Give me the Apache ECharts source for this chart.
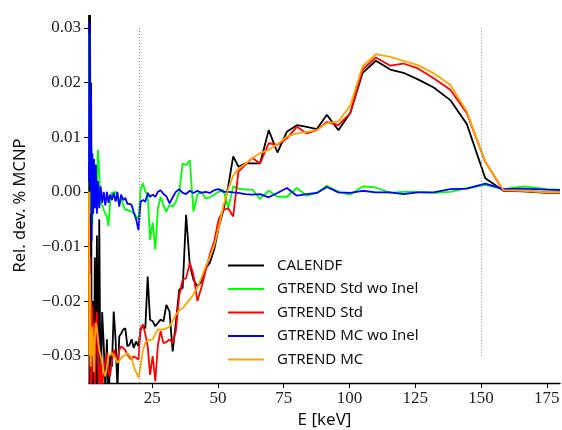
<!DOCTYPE html>
<html>
<head>
<meta charset="utf-8">
<script src="https://cdn.jsdelivr.net/npm/echarts@6/dist/echarts.min.js"></script>
<style>
  html, body { margin: 0; padding: 0; background: #fff; }
  #chart { width: 562px; height: 430px; }
</style>
</head>
<body>
<div id="chart"></div>
<script>
// energie (keV)
const energy = [1.0, 1.2, 1.4, 1.6, 1.8, 2.0, 2.3, 2.6, 2.9, 3.2, 3.6, 4.0, 4.4, 4.9, 5.4, 6.0, 6.6, 7.2, 7.8, 8.4,
  9.0, 9.7, 10.4, 11.1, 11.8, 12.5, 13.2, 14.0, 14.8, 15.6, 16.4, 17.2, 18.0, 18.9, 19.8, 20.6, 21.5, 22.4, 23.3, 24.2,
  25.2, 26.2, 27.2, 28.2, 29.3, 30.4, 31.6, 32.8, 34.0, 35.3, 36.6, 37.9, 39.3, 40.7, 42.2, 43.7, 45.3, 46.9, 48.6, 50.3,
  52.1, 53.9, 55.8, 57.8, 60.3, 63.1, 66.0, 69.3, 72.6, 76.2, 80.0, 83.8, 87.6, 91.4, 95.8, 100.3, 105.0, 110.0, 115.5, 120.5,
  126.0, 132.0, 138.3, 144.6, 151.6, 158.5, 166.0, 175.0, 180.0]

const calendf = [0.04, -0.04, 0.035, -0.04, 0.02, -0.04, -0.035, -0.02, -0.04, -0.012, -0.04, -0.008, -0.038, -0.005, -0.04, -0.022, -0.028, -0.036, -0.027, -0.04,
  -0.03, -0.032, -0.0219, -0.027, -0.036, -0.0265, -0.026, -0.0252, -0.025, -0.0283, -0.028, -0.027, -0.0286, -0.0274, -0.0283, -0.0252, -0.0245, -0.025, -0.0155, -0.0234,
  -0.0237, -0.0246, -0.024, -0.0234, -0.0237, -0.0207, -0.0219, -0.0292, -0.024, -0.0179, -0.0176, -0.0042, -0.0133, -0.0161, -0.0173, -0.0164, -0.014, -0.013, -0.0105, -0.0065,
  -0.0033, 0.001, 0.0065, 0.0046, 0.0052, 0.0052, 0.0052, 0.0113, 0.0072, 0.011, 0.0122, 0.0119, 0.0115, 0.0141, 0.0113, 0.0145, 0.0218, 0.024, 0.0224, 0.0218,
  0.0206, 0.0191, 0.0168, 0.0124, 0.0025, 0.0002, 0.0001, -0.0002, -0.0002]

const stdWoInel = [0.005, 0.029, 0.02, 0.011, -0.004, 0.008, -0.006, 0.004, -0.002, 0.003, -0.003, 0.0, 0.0077, 0.0034, -0.002, -0.0025, -0.0033, -0.004, -0.0045, -0.0063,
  -0.002, -0.0002, 0.0, 0.0, -0.001, -0.0021, -0.0012, -0.0025, -0.0033, -0.0033, -0.0035, -0.0036, -0.004, -0.0045, -0.005, 0.0004, 0.0016, 0.0, -0.0002, -0.0088,
  -0.0056, -0.0106, -0.003, -0.0009, -0.0025, -0.0036, -0.0024, -0.0027, -0.0018, 0.0, 0.0052, 0.0049, 0.0058, -0.0036, -0.0005, 0.0, -0.0012, -0.001, -0.0005, 0.0,
  0.0004, -0.003, 0.001, 0.0006, 0.0004, 0.0004, -0.0013, 0.0002, -0.0009, -0.0009, 0.0007, -0.0007, -0.0002, 0.0011, 0.0, -0.0005, 0.001, 0.0008, -0.0002, 0.0,
  0.0, -0.0002, 0.0, 0.0007, 0.0013, 0.0005, 0.001, 0.0005, 0.0004]

const std = [-0.005, -0.03, -0.012, -0.038, -0.02, -0.035, -0.021, -0.03, -0.024, -0.036, -0.025, -0.022, -0.03, -0.038, -0.031, -0.036, -0.0325, -0.031, -0.0295, -0.033,
  -0.0338, -0.031, -0.0289, -0.03, -0.031, -0.029, -0.0283, -0.0286, -0.029, -0.0298, -0.0303, -0.0307, -0.0301, -0.0304, -0.0307, -0.025, -0.0243, -0.026, -0.0283, -0.0335,
  -0.0301, -0.0347, -0.028, -0.0255, -0.0277, -0.0275, -0.027, -0.0277, -0.0255, -0.019, -0.0161, -0.0158, -0.013, -0.0152, -0.02, -0.0175, -0.0145, -0.0115, -0.009, -0.005,
  -0.0033, -0.003, -0.0045, 0.0037, 0.0049, 0.0062, 0.0052, 0.0089, 0.0086, 0.0098, 0.0119, 0.0107, 0.0113, 0.0128, 0.0122, 0.0144, 0.0224, 0.0246, 0.0231, 0.0235,
  0.0226, 0.0208, 0.0187, 0.0144, 0.0055, 0.0002, 0.0002, -0.0001, -0.0001]

const mcWoInel = [0.002, 0.031, 0.026, 0.0, 0.018, -0.009, 0.007, -0.004, 0.006, -0.003, 0.005, -0.004, 0.002, -0.003, 0.001, -0.002, 0.0, -0.0025, 0.0, -0.002,
  -0.0005, -0.0015, -0.0002, -0.0018, 0.0, -0.0027, -0.0005, -0.0015, -0.0011, -0.0022, -0.0022, -0.0024, -0.0037, -0.005, -0.007, -0.0018, -0.0015, -0.0018, -0.0002, -0.0009,
  -0.0005, -0.0009, 0.0, 0.0003, -0.0004, -0.0008, -0.0021, -0.001, 0.0, 0.0005, -0.0002, -0.0004, 0.0002, -0.0002, 0.0002, -0.0002, 0.0, -0.0002, 0.0003, 0.0005,
  0.0, 0.0, -0.0001, -0.0002, -0.0004, -0.0005, -0.0004, -0.001, -0.0002, 0.0007, -0.0007, -0.0004, -0.0002, 0.0009, -0.0001, -0.0002, 0.0002, -0.0001, -0.0001, -0.0004,
  -0.0001, -0.0001, 0.0005, 0.0006, 0.0015, 0.0005, 0.0006, 0.0004, 0.0003]

const mc = [0.0, -0.03, -0.015, -0.032, -0.025, -0.03, -0.0246, -0.029, -0.033, -0.027, -0.024, -0.025, -0.0252, -0.0289, -0.03, -0.0313, -0.033, -0.0338, -0.032, -0.0301,
  -0.0298, -0.0295, -0.03, -0.0305, -0.0313, -0.031, -0.0305, -0.0301, -0.0298, -0.0295, -0.03, -0.0304, -0.032, -0.033, -0.034, -0.032, -0.029, -0.0276, -0.0272, -0.0271,
  -0.027, -0.026, -0.0252, -0.0252, -0.0252, -0.025, -0.0247, -0.0236, -0.0225, -0.0217, -0.0213, -0.0205, -0.0197, -0.0188, -0.0175, -0.0158, -0.0137, -0.012, -0.0098, -0.0065,
  -0.0025, 0.0005, 0.003, 0.0042, 0.0051, 0.0062, 0.0071, 0.0077, 0.0087, 0.0101, 0.0107, 0.011, 0.0113, 0.0126, 0.0129, 0.0158, 0.023, 0.0252, 0.0247, 0.024,
  0.0232, 0.0217, 0.0196, 0.0147, 0.0055, 0.0003, 0.0002, -0.0001, -0.0001]

const xTicks = [25, 50, 75, 100, 125, 150, 175]
const yTicks = [-0.03, -0.02, -0.01, 0.0, 0.01, 0.02, 0.03]
const guideLines = [20, 150]

const seriesNames = ['CALENDF', 'GTREND Std wo Inel', 'GTREND Std', 'GTREND MC wo Inel', 'GTREND MC']
const seriesValues = [calendf, stdWoInel, std, mcWoInel, mc]
const seriesColors = ['#000000', '#00ff00', '#ff0000', '#0000ff', '#ffa500']

const pairs = vals => energy.map((e, i) => [e, vals[i]])

const myChart = echarts.init(document.getElementById('chart'))

const series = seriesNames.map((name, k) => ({
  name: name,
  type: 'line',
  data: pairs(seriesValues[k]),
  symbol: 'none',
  clip: true,
  lineStyle: { color: seriesColors[k], width: 1.8 },
  itemStyle: { color: seriesColors[k] }
}))

// lignes pointillées verticales
series[0].markLine = {
  silent: true,
  symbol: 'none',
  label: { show: false },
  lineStyle: { color: '#888', type: [1, 2], width: 1 },
  data: [
    [{ coord: [guideLines[0], -0.035] }, { coord: [guideLines[0], 0.03] }],
    [{ coord: [guideLines[1], -0.03] }, { coord: [guideLines[1], 0.03] }]
  ]
}

const fmtY = v => (v < 0 ? '\u2212' : '') + Math.abs(v).toFixed(2)
const serif = "'Liberation Serif', 'DejaVu Serif', serif"
const sans = "'Noto Sans', sans-serif"

const option = {
  animation: false,
  backgroundColor: '#fff',
  textStyle: { fontFamily: serif },
  grid: { left: 89, right: 2, top: 16, bottom: 47, outerBoundsMode: 'none', containLabel: false },
  legend: {
    orient: 'vertical',
    left: 223,
    top: 253,
    icon: 'rect',
    itemWidth: 36,
    itemHeight: 2,
    itemGap: 8.5,
    data: seriesNames,
    textStyle: { fontFamily: sans, fontSize: 15, color: '#111', padding: [0, 0, 0, 8] }
  },
  xAxis: {
    type: 'value',
    min: 1,
    max: 180,
    name: 'E [keV]',
    nameLocation: 'middle',
    nameGap: 28,
    nameTextStyle: { fontFamily: sans, fontSize: 17, color: '#111' },
    splitLine: { show: false },
    axisLine: { onZero: false, lineStyle: { color: '#000', width: 1.3 } },
    axisTick: { customValues: xTicks, length: 5, lineStyle: { color: '#000' } },
    axisLabel: { customValues: xTicks, fontFamily: serif, fontSize: 17, color: '#222', margin: 7 }
  },
  yAxis: {
    type: 'value',
    min: -0.035,
    max: 0.0322,
    name: 'Rel. dev. % MCNP',
    nameLocation: 'middle',
    nameGap: 60,
    nameTextStyle: { fontFamily: sans, fontSize: 16.5, color: '#111', padding: [0, 12, 0, 0] },
    splitLine: { show: false },
    axisLine: { show: true, onZero: false, lineStyle: { color: '#000', width: 1.3 } },
    axisTick: { show: true, customValues: yTicks, length: 5, lineStyle: { color: '#000' } },
    axisLabel: { customValues: yTicks, formatter: fmtY, fontFamily: serif, fontSize: 17, color: '#222', margin: 8 }
  },
  series: series
}

myChart.setOption(option)
</script>
</body>
</html>
